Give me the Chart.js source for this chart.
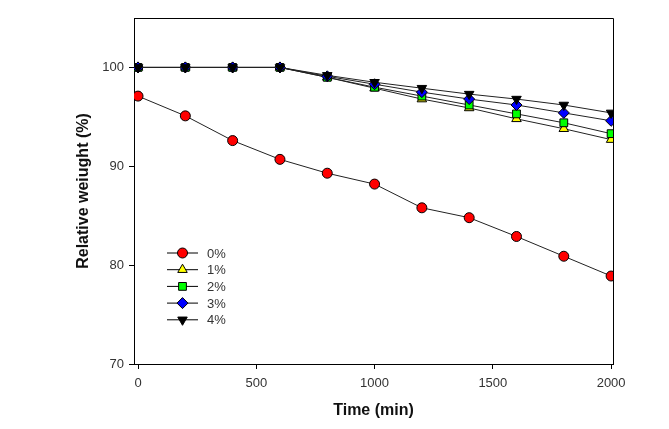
<!DOCTYPE html>
<html>
<head>
<meta charset="utf-8">
<script src="https://cdn.jsdelivr.net/npm/chart.js@4"></script>
<style>
  html, body { margin: 0; padding: 0; background: #fff; }
</style>
</head>
<body>
<canvas id="c" width="669" height="429"></canvas>
<script>
// time in minutes
var times = [0, 200, 400, 600, 800, 1000, 1200, 1400, 1600, 1800, 2000];

// relative weight (%) per additive content
var w0 = [97.1, 95.1, 92.6, 90.7, 89.3, 88.2, 85.8, 84.8, 82.9, 80.9, 78.9];
var w1 = [100, 100, 100, 100, 99.0, 97.9, 96.8, 95.9, 94.8, 93.8, 92.7];
var w2 = [100, 100, 100, 100, 99.0, 98.0, 97.1, 96.2, 95.3, 94.4, 93.3];
var w3 = [100, 100, 100, 100, 99.1, 98.3, 97.5, 96.8, 96.2, 95.4, 94.6];
var w4 = [100, 100, 100, 100, 99.2, 98.5, 97.9, 97.3, 96.8, 96.2, 95.4];

var seriesNames = ['0%', '1%', '2%', '3%', '4%'];
var xTicks = [0, 500, 1000, 1500, 2000];
var yTicks = [70, 80, 90, 100];

var fontFam = '"Liberation Sans", Arial, sans-serif';

function pts(vals) {
    return vals.map(function (v, i) { return { x: times[i], y: v }; });
}

var styles = [
    { fill: '#ff0000', shape: 'circle', r: 5, rot: 0 },
    { fill: '#ffff00', shape: 'triangle', r: 5.5, rot: 0 },
    { fill: '#00ff00', shape: 'rect', r: 5.5, rot: 0 },
    { fill: '#0000ff', shape: 'rectRot', r: 5.5, rot: 0 },
    { fill: '#000000', shape: 'triangle', r: 5.5, rot: 180 }
];

var allVals = [w0, w1, w2, w3, w4];
var datasets = allVals.map(function (vals, i) {
    var s = styles[i];
    return {
        label: seriesNames[i],
        data: pts(vals),
        borderColor: '#222',
        borderWidth: 1,
        pointStyle: s.shape,
        pointRotation: s.rot,
        pointRadius: s.r,
        pointBackgroundColor: s.fill,
        pointBorderColor: '#000',
        pointBorderWidth: 1,
        order: 5 - i
    };
});

var framePlugin = {
    id: 'frame',
    afterDraw: function (chart) {
        var ctx = chart.ctx, a = chart.chartArea;
        ctx.save();
        ctx.strokeStyle = '#000';
        ctx.lineWidth = 1;
        ctx.beginPath();
        ctx.moveTo(a.left, a.top + 0.5);
        ctx.lineTo(a.right + 0.5, a.top + 0.5);
        ctx.lineTo(a.right + 0.5, a.bottom);
        ctx.stroke();

        // legend
        var lx = a.left + 33, ly = a.top + 235, gap = 16.7;
        ctx.font = '13px ' + fontFam;
        ctx.textBaseline = 'middle';
        datasets.forEach(function (d, i) {
            var y = ly + i * gap;
            ctx.strokeStyle = '#000';
            ctx.lineWidth = 1;
            ctx.beginPath();
            ctx.moveTo(lx, y);
            ctx.lineTo(lx + 31, y);
            ctx.stroke();
            ctx.fillStyle = d.pointBackgroundColor;
            Chart.helpers.drawPoint(ctx, {
                pointStyle: d.pointStyle,
                rotation: d.pointRotation,
                radius: d.pointRadius,
                borderWidth: 1
            }, lx + 15.5, y);
            ctx.fillStyle = '#333';
            ctx.fillText(d.label, lx + 40, y + 1);
        });
        ctx.restore();
    }
};

new Chart(document.getElementById('c'), {
    type: 'line',
    data: { datasets: datasets },
    plugins: [framePlugin],
    options: {
        responsive: false,
        animation: false,
        layout: { padding: { left: 74, top: 18, right: 56, bottom: 9 } },
        plugins: { legend: { display: false }, tooltip: { enabled: false } },
        scales: {
            x: {
                type: 'linear',
                min: -17,
                max: 2008,
                afterBuildTicks: function (s) { s.ticks = xTicks.map(function (v) { return { value: v }; }); },
                afterFit: function (s) { s.height = 56; },
                grid: { display: true, drawOnChartArea: false, drawTicks: true, tickLength: 5, color: '#000' },
                border: { display: true, color: '#000', width: 1 },
                ticks: {
                    color: '#333', font: { family: fontFam, size: 13 }, padding: 7, maxRotation: 0,
                    callback: function (v) { return String(v); }
                },
                title: { display: true, text: 'Time (min)', color: '#111', font: { family: fontFam, size: 16, weight: 'bold' }, padding: { top: 6, bottom: 0 } }
            },
            y: {
                type: 'linear',
                min: 70,
                max: 105,
                afterBuildTicks: function (s) { s.ticks = yTicks.map(function (v) { return { value: v }; }); },
                afterFit: function (s) { s.width = 60; },
                grid: { display: true, drawOnChartArea: false, drawTicks: true, tickLength: 5, color: '#000' },
                border: { display: true, color: '#000', width: 1 },
                ticks: {
                    color: '#333', font: { family: fontFam, size: 13 }, padding: 5,
                    callback: function (v) { return String(v); }
                },
                title: { display: true, text: 'Relative weiught (%)', color: '#111', font: { family: fontFam, size: 16, weight: 'bold' }, padding: { top: 0, bottom: 6 } }
            }
        }
    }
});
</script>
</body>
</html>
